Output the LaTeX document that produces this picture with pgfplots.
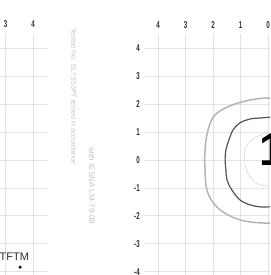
\documentclass[border=0pt]{standalone}
\usepackage{fontspec}
\setmainfont{Liberation Sans}
\newfontfamily\narrowf[FakeStretch=0.62]{Liberation Sans}
\usepackage{pgfplots}
\pgfplotsset{compat=1.18}
\definecolor{gridc}{HTML}{E2E2E2}
\definecolor{tickc}{HTML}{2E2E2E}
\definecolor{darkc}{HTML}{4E5550}
\definecolor{outerc}{HTML}{B4B4B4}
\definecolor{faintc}{HTML}{C4C4C4}
\begin{document}
\begin{tikzpicture}[x=1pt,y=1pt]
\useasboundingbox (0,0) rectangle (270,275);
\clip (0,0) rectangle (270,275);
\pgfplotsset{
  myax/.style={
    scale only axis, width=247.5pt, height=251.1pt,
    xmin=-4.5, xmax=4.5, ymin=-4.5, ymax=4.5,
    xtick={-4,...,4}, ytick={-4,...,4},
    grid=major, major grid style={gridc, line width=0.8pt},
    axis line style={draw=none}, tick style={draw=none},
    xticklabel pos=top,
    tick label style={font=\narrowf\bfseries\fontsize{10}{11}\selectfont, text=tickc},
    /pgf/number format/assume math mode=true,
  }
}
% left (partially visible) diagram
\begin{axis}[myax, at={(-200.75pt,-10.55pt)}, anchor=south west,
  xticklabels={,,,,,,,3,4}, yticklabels={}, xticklabel style={yshift=3pt}]
\addplot[only marks, mark=*, mark size=1.3pt, black] coordinates {(3.53,-3.84)};
\end{axis}
% right diagram
\begin{axis}[myax, x dir=reverse, at={(144.25pt,-10.55pt)}, anchor=south west,
  xticklabels={,,,,0,1,2,3,4},
  yticklabel style={xshift=-1pt}, xticklabel style={yshift=2pt}]
\addplot[faintc!70, line width=0.6pt, smooth cycle, tension=0.6] coordinates {
(0,0.95) (0.55,0.75) (0.84,0.36) (0.8,-0.3) (0.5,-0.78) (0,-0.93) (-0.5,-0.78) (-0.8,-0.3) (-0.84,0.36) (-0.55,0.75)};
\addplot[outerc, line width=1.5pt, smooth cycle, tension=0.6] coordinates {
(0,2.22) (0.65,2.15) (1.38,1.94) (1.93,1.61) (2.18,1.08) (2.29,0.36) (2.29,-0.36) (2.22,-1.08) (1.93,-1.61) (1.45,-1.97) (0.84,-2.19) (0,-2.26) (-0.84,-2.19) (-1.45,-1.97) (-1.93,-1.61) (-2.22,-1.08) (-2.29,0) (-2.18,1.08) (-1.93,1.61) (-1.38,1.94) (-0.65,2.15)};
\addplot[darkc, line width=1.2pt, smooth cycle, tension=0.6] coordinates {
(0,1.53) (0.22,1.51) (0.65,1.47) (1.02,1.33) (1.27,1.08) (1.42,0.72) (1.53,0.36) (1.56,0) (1.53,-0.36) (1.49,-0.72) (1.31,-1.08) (1.02,-1.43) (0.65,-1.61) (0.29,-1.68) (0,-1.68) (-0.4,-1.65) (-0.9,-1.45) (-1.3,-1.05) (-1.5,-0.5) (-1.55,0) (-1.5,0.5) (-1.3,1.0) (-0.9,1.35) (-0.4,1.5)};
\end{axis}
% texts
\node[anchor=base west, inner sep=0, text=black] at (259,109) {\fontsize{46}{50}\selectfont\bfseries 1};
\node[anchor=base west, inner sep=0, text=tickc] at (-0.5,14) {\fontsize{11}{12}\selectfont TFTM};
\node[anchor=west, rotate=-90, inner sep=0, text=faintc] at (74,247) {\fontsize{7}{8}\selectfont Tested No. EL7S53PT tested in accordance};
\node[anchor=west, rotate=-90, inner sep=0, text=faintc] at (92,128) {\fontsize{8}{9}\selectfont with IESNA LM-79-08};
\end{tikzpicture}
\end{document}
